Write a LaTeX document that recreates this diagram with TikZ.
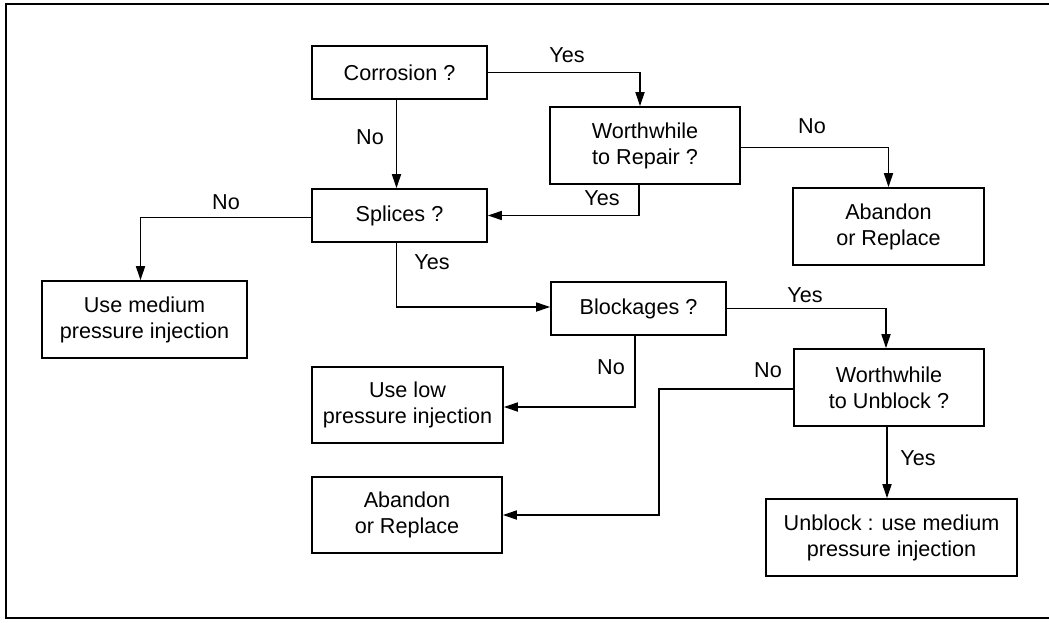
\documentclass[tikz,border=0pt]{standalone}
\usepackage{fontspec}
\setmainfont{Liberation Sans}
\usetikzlibrary{arrows.meta}
\begin{document}
\begin{tikzpicture}[x=1pt,y=-1pt,
  font=\fontsize{21.6}{26}\selectfont,
  box/.style={draw,line width=1.7pt,align=center,inner sep=0pt},
  arr/.style={line width=1.7pt,-{Triangle[length=14pt,width=9pt]}},
  lbl/.style={inner sep=0pt}]
\useasboundingbox (0,0) rectangle (1049,623);
\draw[line width=1.4pt] (1049,4) -- (6,4) -- (6,618) -- (1049,618);
% boxes
\node[box,minimum width=175pt,minimum height=53pt] (cor) at (399.5,72.5) {Corrosion ?};
\node[box,minimum width=190pt,minimum height=77pt] (wr) at (645,145.5) {Worthwhile\\to Repair ?};
\node[box,minimum width=191pt,minimum height=77pt] (ab1) at (888.5,226.5) {Abandon\\or Replace};
\node[box,minimum width=175pt,minimum height=53pt] (spl) at (399.5,215.5) {Splices ?};
\node[box,minimum width=205pt,minimum height=77pt] (um) at (144.5,319.5) {Use medium\\pressure injection};
\node[box,minimum width=175pt,minimum height=53pt] (blk) at (638.5,308.5) {Blockages ?};
\node[box,minimum width=190pt,minimum height=77pt] (wu) at (889,387.5) {Worthwhile\\to Unblock ?};
\node[box,minimum width=191pt,minimum height=76pt] (ul) at (407.5,405) {Use low\\pressure injection};
\node[box,minimum width=190pt,minimum height=76pt] (ab2) at (407,515) {Abandon\\or Replace};
\node[box,minimum width=251pt,minimum height=77pt] (ub) at (891.5,537.5) {Unblock : use medium\\pressure injection};
% connectors
\draw[arr] (cor.east) -| ([xshift=-5pt]wr.north);
\draw[arr] ([xshift=-3pt]cor.south) -- ([xshift=-3pt]spl.north);
\draw[arr] ([xshift=-6pt]wr.south) |- (spl.east);
\draw[arr] ([yshift=-2pt]wr.east) -| (ab1.north);
\draw[arr] ([yshift=-2pt]spl.west) -| ([xshift=-4pt]um.north);
\draw[arr] ([xshift=-3pt]spl.south) |- ([yshift=1.5pt]blk.west);
\draw[arr] (blk.east) -| ([xshift=-3pt]wu.north);
\draw[arr] ([xshift=-3.5pt]blk.south) |- ([yshift=-2pt]ul.east);
\draw[arr] ([yshift=-1.5pt]wu.west) -- ++(-134,0) |- (ab2.east);
\draw[arr] ([xshift=-2pt]wu.south) -- ([xshift=-4.5pt]ub.north);
% labels
\node[lbl] (l1) at (567,55) {Yes};
\node[lbl] (l2) at (370,137) {No};
\node[lbl] (l3) at (602,198) {Yes};
\node[lbl] (l4) at (812,126) {No};
\node[lbl] (l5) at (226,202) {No};
\node[lbl] (l6) at (432,262) {Yes};
\node[lbl] (l7) at (805,295) {Yes};
\node[lbl] (l8) at (611,367) {No};
\node[lbl] (l9) at (768,370) {No};
\node[lbl] (l10) at (918,458) {Yes};
\end{tikzpicture}
\end{document}
